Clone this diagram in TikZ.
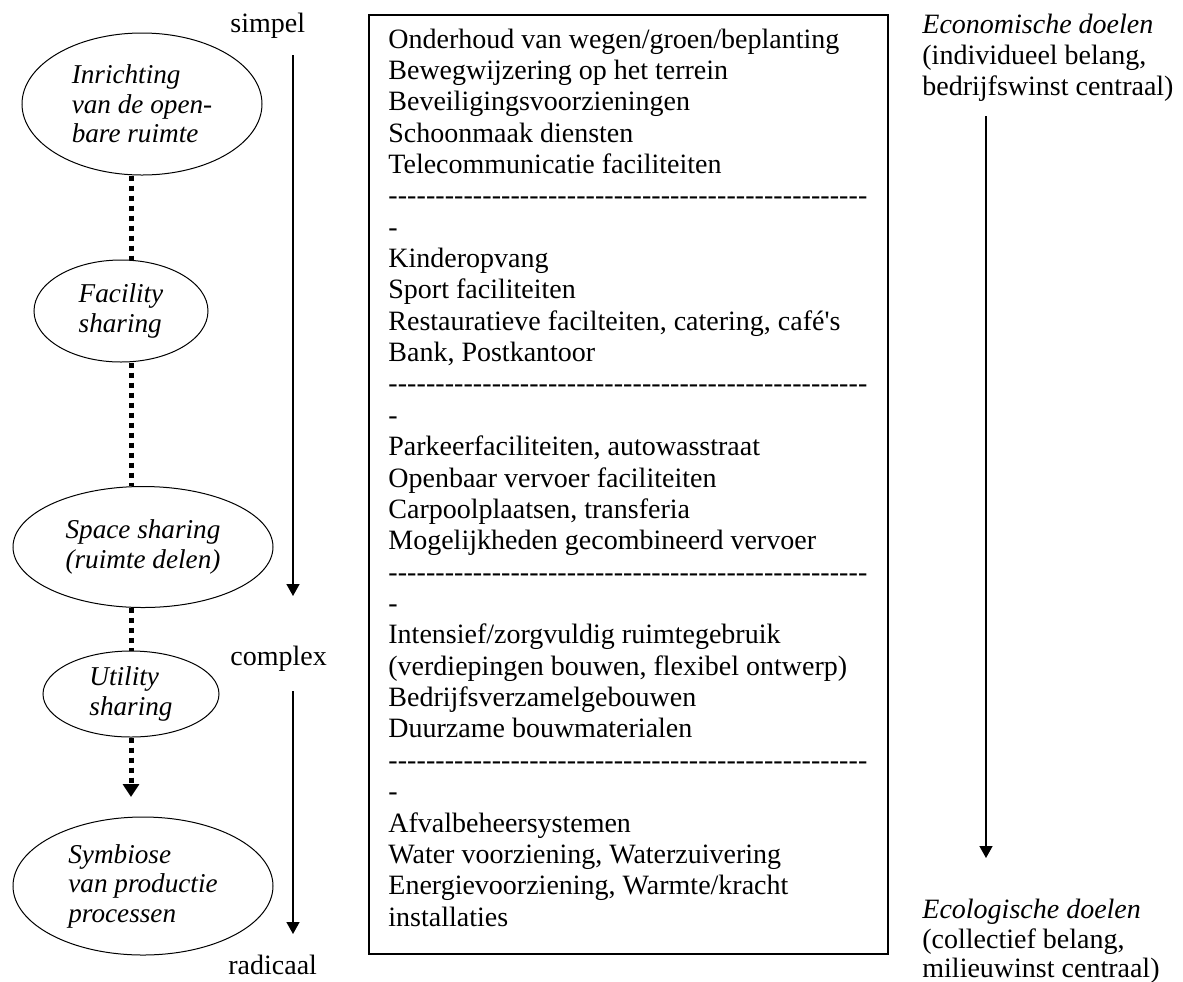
\documentclass[tikz,border=0pt]{standalone}
\usepackage{fontspec}
\setmainfont{Liberation Serif}
\usetikzlibrary{arrows.meta,shapes.geometric}
\newcommand\mydashes{\hbox to 239.5pt{\xleaders\hbox{-}\hfill}}
\begin{document}
\begin{tikzpicture}[x=0.5pt,y=-0.5pt,
  txt/.style={font=\fontsize{14}{15.5}\selectfont, inner sep=0pt, anchor=base west},
  itxt/.style={txt, font=\fontsize{14}{15.5}\selectfont\itshape},
  oval/.style={ellipse, draw, line width=0.5pt, inner sep=0pt, align=left,
    font=\fontsize{13.6}{14.75}\selectfont\itshape},
  dots/.style={line width=2.5pt, dash pattern=on 2.5pt off 2.5pt},
  arr/.style={line width=0.75pt, -{Triangle[width=6.5pt,length=6pt]}},
  frame/.style={draw, line width=0.75pt, inner sep=0pt, anchor=north west}]
\useasboundingbox (0,0) rectangle (1183,981);

% ellipses
\node[oval, minimum width=120pt, minimum height=71pt] (e1) at (142,104) {Inrichting\\van de open-\\bare ruimte};
\node[oval, minimum width=87pt, minimum height=51pt] (e2) at (121,311) {Facility\\sharing};
\node[oval, align=center, minimum width=130pt, minimum height=60.5pt] (e3) at (143,547) {Space sharing\\(ruimte delen)};
\node[oval, minimum width=88pt, minimum height=43pt] (e4) at (131,694) {Utility\\sharing};
\node[oval, minimum width=130pt, minimum height=69pt] (e5) at (143,886) {Symbiose\\van productie\\processen};

% dotted connectors
\coordinate (dx) at (131,0);
\coordinate (d5) at (131,797);
\draw[dots] (e1.south -| dx) -- (e2.north -| dx);
\draw[dots] (e2.south -| dx) -- (e3.north -| dx);
\draw[dots] (e3.south -| dx) -- (e4.north -| dx);
\draw[dots, -{Triangle[width=8pt,length=6.5pt]}] (e4.south) -- (d5);

% left scale
\node[txt] (simpel) at (230,32) {simpel};
\node[txt] (complex) at (230,665) {complex};
\node[txt] (radicaal) at (228,974) {radicaal};
\coordinate (a1s) at (293,55);
\coordinate (a1e) at (293,596);
\coordinate (a2s) at (293,691);
\coordinate (a2e) at (293,934);
\draw[arr] (a1s) -- (a1e);
\draw[arr] (a2s) -- (a2e);

% box
\node[frame, minimum width=259.5pt, minimum height=469.5pt] (box) at (368,14) {};
\foreach \t [count=\i from 0] in {
  {Onderhoud van wegen/groen/beplanting},
  {Bewegwijzering op het terrein},
  {Beveiligingsvoorzieningen},
  {Schoonmaak diensten},
  {Telecommunicatie faciliteiten},
  {\mydashes},
  {-},
  {Kinderopvang},
  {Sport faciliteiten},
  {Restauratieve facilteiten, catering, café\textquotesingle s},
  {Bank, Postkantoor},
  {\mydashes},
  {-},
  {Parkeerfaciliteiten, autowasstraat},
  {Openbaar vervoer faciliteiten},
  {Carpoolplaatsen, transferia},
  {Mogelijkheden gecombineerd vervoer},
  {\mydashes},
  {-},
  {Intensief/zorgvuldig ruimtegebruik},
  {(verdiepingen bouwen, flexibel ontwerp)},
  {Bedrijfsverzamelgebouwen},
  {Duurzame bouwmaterialen},
  {\mydashes},
  {-},
  {Afvalbeheersystemen},
  {Water voorziening, Waterzuivering},
  {Energievoorziening, Warmte/kracht},
  {installaties}}
  \node[txt] (l\i) at (388,{48+31.36*\i}) {\t};

% right side
\node[itxt] (eco1) at (922,33) {Economische doelen};
\node[txt] (eco2) at (922,64) {(individueel belang,};
\node[txt] (eco3) at (922,95) {bedrijfswinst centraal)};
\node[itxt] (ecl1) at (922,918) {Ecologische doelen};
\node[txt] (ecl2) at (922,948) {(collectief belang,};
\node[txt] (ecl3) at (922,977) {milieuwinst centraal)};
\coordinate (a3s) at (986,116);
\coordinate (a3e) at (986,858);
\draw[arr] (a3s) -- (a3e);
\end{tikzpicture}
\end{document}
